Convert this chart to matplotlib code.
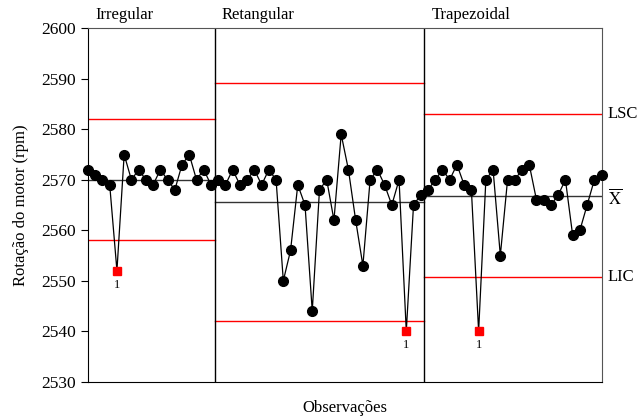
import numpy as np
import matplotlib.pyplot as plt

plt.rcParams['font.family'] = ['Liberation Serif', 'DejaVu Serif']
plt.rcParams['mathtext.fontset'] = 'stix'

stages = ['Irregular', 'Retangular', 'Trapezoidal']
irregular = [2572, 2571, 2570, 2569, 2552, 2575, 2570, 2572, 2570, 2569,
             2572, 2570, 2568, 2573, 2575, 2570, 2572, 2569]
retangular = [2570, 2569, 2572, 2569, 2570, 2572, 2569, 2572, 2570, 2550,
              2556, 2569, 2565, 2544, 2568, 2570, 2562, 2579, 2572, 2562,
              2553, 2570, 2572, 2569, 2565, 2570, 2540, 2565, 2567]
trapezoidal = [2568, 2570, 2572, 2570, 2573, 2569, 2568, 2540, 2570, 2572,
               2555, 2570, 2570, 2572, 2573, 2566, 2566, 2565, 2567, 2570,
               2559, 2560, 2565, 2570, 2571]
center = [2570.0, 2565.6, 2566.8]
lsc = [2582.0, 2589.1, 2583.0]
lic = [2558.0, 2542.1, 2550.8]
# observations flagged by test 1 (1-based)
flagged = [5, 45, 55]

groups = [irregular, retangular, trapezoidal]
values = np.concatenate(groups)
obs = np.arange(1, len(values) + 1)
sizes = [len(g) for g in groups]
edges = np.concatenate([[1], np.cumsum(sizes)[:-1] + 0.5, [len(values)]])

fig = plt.figure(figsize=(6.4, 4.18), dpi=100)
ax = fig.add_axes([0.1375, 0.0868, 0.8025, 0.8454])

# limits and center line per stage
for i in range(3):
    x0, x1 = edges[i], edges[i + 1]
    ax.plot([x0, x1], [lsc[i], lsc[i]], color='red', lw=1, zorder=1)
    ax.plot([x0, x1], [lic[i], lic[i]], color='red', lw=1, zorder=1)
    ax.plot([x0, x1], [center[i], center[i]], color='#333333', lw=1, zorder=1)
    ax.text(x0 + 1.0, 2601, stages[i], fontsize=12, ha='left', va='bottom')

for e in edges[1:-1]:
    ax.axvline(e, color='black', lw=1, zorder=1)

# series line drawn per stage
start = 0
for g in groups:
    xs = obs[start:start + len(g)]
    ax.plot(xs, g, color='black', lw=0.9, zorder=2)
    start += len(g)

normal = [i for i in range(len(values)) if (i + 1) not in flagged]
ax.plot(obs[normal], values[normal], 'o', color='black', ms=7, zorder=3,
        clip_on=False)
fl = np.array(flagged) - 1
ax.plot(obs[fl], values[fl], 's', color='red', ms=5.5, zorder=4)
for i in fl:
    ax.text(obs[i], values[i] - 1.6, '1', fontsize=9, ha='center', va='top')

ax.set_xlim(1, len(values))
ax.set_ylim(2530, 2600)
ax.set_yticks(np.arange(2530, 2601, 10))
ax.set_xticks([])
ax.tick_params(axis='y', labelsize=12.5, direction='out', length=5)
for s in ['top', 'right']:
    ax.spines[s].set_color('#555555')

ax.set_ylabel('Rotação do motor (rpm)', fontsize=12, labelpad=9)
ax.set_xlabel('Observações', fontsize=12, labelpad=13)

# right-hand labels for the last stage
ax.text(1.012, lsc[2], 'LSC', transform=ax.get_yaxis_transform(),
        fontsize=12, va='center', ha='left')
ax.text(1.012, center[2] - 0.5, r'$\overline{\mathrm{X}}$', transform=ax.get_yaxis_transform(),
        fontsize=12, va='center', ha='left')
ax.text(1.012, lic[2], 'LIC', transform=ax.get_yaxis_transform(),
        fontsize=12, va='center', ha='left')

fig.savefig('out.png', dpi=100)
